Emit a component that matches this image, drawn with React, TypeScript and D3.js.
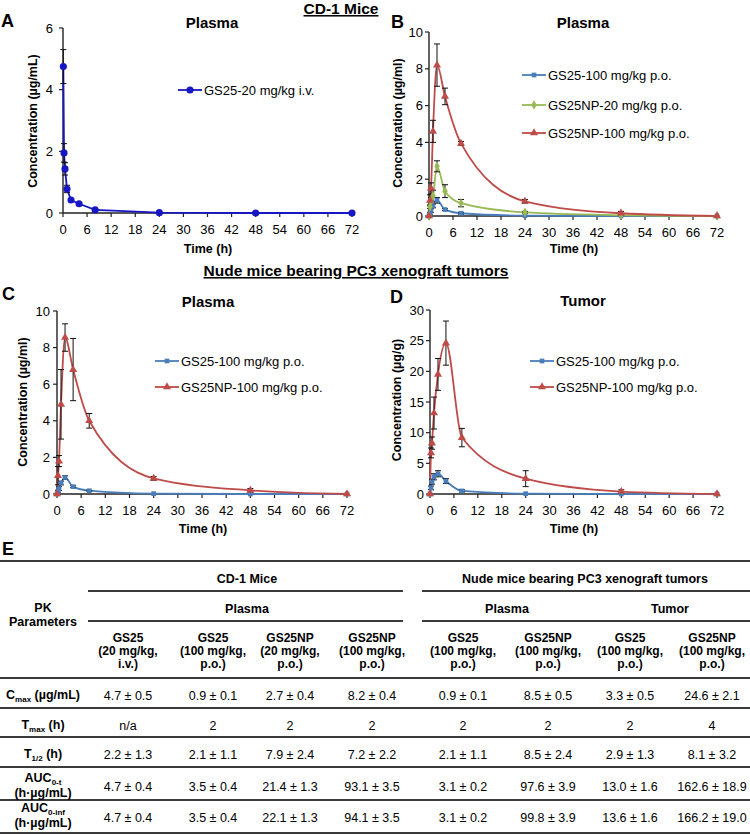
import React from 'react';
import * as d3 from 'd3';

const FONT = 'Arial, "Liberation Sans", Helvetica, sans-serif';

// ---------- DATA ----------
const xTickValues = [0, 6, 12, 18, 24, 30, 36, 42, 48, 54, 60, 66, 72];

const timesIV = [0.083, 0.25, 0.5, 1, 2, 4, 8, 24, 48, 72];
const ivGS25 = [4.75, 1.95, 1.43, 0.78, 0.42, 0.3, 0.1, 0.01, 0, 0];
const ivGS25Err = [0.55, 0.3, 0.2, 0.12, 0.05, 0.04, 0.03, 0, 0, 0];

const timesPO = [0, 0.25, 0.5, 1, 2, 4, 8, 24, 48, 72];
const bGS25 = [0, 0.15, 0.3, 0.55, 0.85, 0.35, 0.15, 0.02, 0, 0];
const bGS25Err = [0, 0.05, 0.1, 0.1, 0.15, 0.05, 0.05, 0, 0, 0];
const bNP20 = [0, 0.5, 0.8, 1.1, 2.7, 1.35, 0.7, 0.2, 0.05, 0];
const bNP20Err = [0, 0.1, 0.2, 0.3, 0.3, 0.35, 0.2, 0.05, 0.02, 0];
const bNP100 = [0, 0.85, 1.5, 4.6, 8.2, 6.5, 3.95, 0.8, 0.15, 0];
const bNP100Err = [0, 0.3, 0.3, 0.6, 1.15, 0.45, 0.1, 0.1, 0.1, 0];

const cGS25 = [0, 0.15, 0.3, 0.6, 0.9, 0.4, 0.18, 0.02, 0, 0];
const cGS25Err = [0, 0.05, 0.1, 0.1, 0.1, 0.05, 0.03, 0, 0, 0];
const cNP100 = [0, 1.0, 1.8, 4.9, 8.55, 6.8, 4.0, 0.85, 0.2, 0];
const cNP100Err = [0, 0.5, 0.3, 1.9, 0.75, 1.7, 0.4, 0.1, 0.1, 0];

const dGS25 = [0, 1.0, 2.0, 2.8, 3.3, 2.1, 0.5, 0.05, 0, 0];
const dGS25Err = [0, 0.3, 0.4, 0.5, 0.5, 0.4, 0.2, 0, 0, 0];
const dNP100 = [0, 6.7, 8.3, 13.2, 19.5, 24.6, 9.2, 2.5, 0.4, 0];
const dNP100Err = [0, 0.8, 1.0, 2.6, 2.6, 3.6, 1.5, 1.3, 0.3, 0];

const legendIV = ['GS25-20 mg/kg i.v.'];
const legendB = ['GS25-100 mg/kg p.o.', 'GS25NP-20 mg/kg p.o.', 'GS25NP-100 mg/kg p.o.'];
const legendCD = ['GS25-100 mg/kg p.o.', 'GS25NP-100 mg/kg p.o.'];

// table
const colDrug = ['GS25', 'GS25', 'GS25NP', 'GS25NP', 'GS25', 'GS25NP', 'GS25', 'GS25NP'];
const colDose = ['(20 mg/kg,', '(100 mg/kg,', '(20 mg/kg,', '(100 mg/kg,', '(100 mg/kg,', '(100 mg/kg,', '(100 mg/kg,', '(100 mg/kg,'];
const colRoute = ['i.v.)', 'p.o.)', 'p.o.)', 'p.o.)', 'p.o.)', 'p.o.)', 'p.o.)', 'p.o.)'];
const rowCmax = ['4.7 ± 0.5', '0.9 ± 0.1', '2.7 ± 0.4', '8.2 ± 0.4', '0.9 ± 0.1', '8.5 ± 0.5', '3.3 ± 0.5', '24.6 ± 2.1'];
const rowTmax = ['n/a', '2', '2', '2', '2', '2', '2', '4'];
const rowThalf = ['2.2 ± 1.3', '2.1 ± 1.1', '7.9 ± 2.4', '7.2 ± 2.2', '2.1 ± 1.1', '8.5 ± 2.4', '2.9 ± 1.3', '8.1 ± 3.2'];
const rowAUCt = ['4.7 ± 0.4', '3.5 ± 0.4', '21.4 ± 1.3', '93.1 ± 3.5', '3.1 ± 0.2', '97.6 ± 3.9', '13.0 ± 1.6', '162.6 ± 18.9'];
const rowAUCinf = ['4.7 ± 0.4', '3.5 ± 0.4', '22.1 ± 1.3', '94.1 ± 3.5', '3.1 ± 0.2', '99.8 ± 3.9', '13.6 ± 1.6', '166.2 ± 19.0'];

// ---------- STYLE ----------
const C_IV = '#1616c4';
const C_BLUE = '#4a7ebb';
const C_GREEN = '#98b954';
const C_RED = '#be4b48';

type Series = { name: string; t: number[]; v: number[]; e: number[]; color: string; sym: any; size: number; curve: any };

type PanelCfg = {
  letter: string; lx: number; ly: number;
  title: string; tx: number; ty: number;
  x0: number; x1: number; yTop: number; yBottom: number; yMax: number; yStep: number;
  yLabel: string; ylx: number; yly: number; ytGap: number;
  timeX: number; timeY: number;
  legX: number; legY: number[];
  series: Series[];
};

function Panel({ c }: { c: PanelCfg }) {
  const x = d3.scaleLinear().domain([0, 72]).range([c.x0, c.x1]);
  const y = d3.scaleLinear().domain([0, c.yMax]).range([c.yBottom, c.yTop]);
  const yTicks = d3.range(0, c.yMax + 0.001, c.yStep);
  return (
    <g fontFamily={FONT}>
      <text x={c.lx} y={c.ly} fontSize={18} fontWeight="bold">{c.letter}</text>
      <text x={c.tx} y={c.ty} fontSize={15} fontWeight="bold" textAnchor="middle">{c.title}</text>
      {/* axes */}
      <line x1={c.x0} x2={c.x0} y1={c.yTop} y2={c.yBottom} stroke="#222" strokeWidth={1.4} />
      <line x1={c.x0} x2={c.x1} y1={c.yBottom} y2={c.yBottom} stroke="#222" strokeWidth={1.4} />
      {yTicks.map((t) => (
        <g key={'y' + t}>
          <line x1={c.x0 - 4} x2={c.x0} y1={y(t)} y2={y(t)} stroke="#222" strokeWidth={1.2} />
          <text x={c.x0 - c.ytGap} y={y(t) + 4.5} fontSize={13} textAnchor="end">{t}</text>
        </g>
      ))}
      {xTickValues.map((t) => (
        <g key={'x' + t}>
          <line x1={x(t)} x2={x(t)} y1={c.yBottom} y2={c.yBottom + 4} stroke="#222" strokeWidth={1.2} />
          <text x={x(t)} y={c.yBottom + 21} fontSize={13} textAnchor="middle">{t}</text>
        </g>
      ))}
      <text x={c.timeX} y={c.timeY} fontSize={12.5} fontWeight="bold" textAnchor="middle">Time (h)</text>
      <text transform={`translate(${c.ylx},${c.yly}) rotate(-90)`} fontSize={12.5} fontWeight="bold" textAnchor="middle">{c.yLabel}</text>
      {/* series lines */}
      {c.series.map((s, i) => {
        const pts = s.t.map((t, k) => [t, s.v[k]] as [number, number]);
        const path = d3.line<[number, number]>().x((d) => x(d[0])).y((d) => y(d[1])).curve(s.curve)(pts) || '';
        return <path key={'l' + i} d={path} fill="none" stroke={s.color} strokeWidth={1.8} />;
      })}
      {/* error bars */}
      {c.series.map((s, i) => (
        <g key={'e' + i} stroke="#111" strokeWidth={1}>
          {s.t.map((t, k) => s.e[k] > 0 ? (
            <g key={k}>
              <line x1={x(t)} x2={x(t)} y1={y(s.v[k] - s.e[k])} y2={y(s.v[k] + s.e[k])} />
              <line x1={x(t) - 3} x2={x(t) + 3} y1={y(s.v[k] + s.e[k])} y2={y(s.v[k] + s.e[k])} />
              <line x1={x(t) - 3} x2={x(t) + 3} y1={y(s.v[k] - s.e[k])} y2={y(s.v[k] - s.e[k])} />
            </g>
          ) : null)}
        </g>
      ))}
      {/* markers */}
      {c.series.map((s, i) => {
        const sym = d3.symbol().type(s.sym).size(s.size)() || '';
        return (
          <g key={'m' + i} fill={s.color}>
            {s.t.map((t, k) => (
              <path key={k} d={sym} transform={`translate(${x(t)},${y(s.v[k])})`} />
            ))}
          </g>
        );
      })}
      {/* legend */}
      {c.series.map((s, i) => {
        const sym = d3.symbol().type(s.sym).size(s.size)() || '';
        const ly = c.legY[i];
        return (
          <g key={'lg' + i}>
            <line x1={c.legX} x2={c.legX + 24} y1={ly} y2={ly} stroke={s.color} strokeWidth={1.8} />
            <path d={sym} transform={`translate(${c.legX + 12},${ly})`} fill={s.color} />
            <text x={c.legX + 26} y={ly + 4.5} fontSize={13}>{s.name}</text>
          </g>
        );
      })}
    </g>
  );
}

const smooth = d3.curveMonotoneX;

const panels: PanelCfg[] = [
  {
    letter: 'A', lx: 1, ly: 27, title: 'Plasma', tx: 212, ty: 28,
    x0: 63, x1: 352, yTop: 28, yBottom: 213, yMax: 6, yStep: 2,
    yLabel: 'Concentration (µg/mL)', ylx: 37, yly: 121, ytGap: 10,
    timeX: 208, timeY: 253, legX: 178, legY: [90],
    series: [{ name: legendIV[0], t: timesIV, v: ivGS25, e: ivGS25Err, color: C_IV, sym: d3.symbolCircle, size: 40, curve: d3.curveLinear }],
  },
  {
    letter: 'B', lx: 391, ly: 28, title: 'Plasma', tx: 583, ty: 28,
    x0: 429, x1: 717, yTop: 32, yBottom: 216, yMax: 10, yStep: 2,
    yLabel: 'Concentration (µg/ml)', ylx: 402, yly: 123, ytGap: 6,
    timeX: 574, timeY: 253, legX: 522, legY: [75, 105, 133],
    series: [
      { name: legendB[0], t: timesPO, v: bGS25, e: bGS25Err, color: C_BLUE, sym: d3.symbolSquare, size: 22, curve: smooth },
      { name: legendB[1], t: timesPO, v: bNP20, e: bNP20Err, color: C_GREEN, sym: d3.symbolDiamond, size: 26, curve: smooth },
      { name: legendB[2], t: timesPO, v: bNP100, e: bNP100Err, color: C_RED, sym: d3.symbolTriangle, size: 28, curve: smooth },
    ],
  },
  {
    letter: 'C', lx: 2, ly: 300, title: 'Plasma', tx: 208, ty: 307,
    x0: 57, x1: 347, yTop: 311, yBottom: 494, yMax: 10, yStep: 2,
    yLabel: 'Concentration (µg/ml)', ylx: 27, yly: 402, ytGap: 7,
    timeX: 203, timeY: 533, legX: 155, legY: [361, 387],
    series: [
      { name: legendCD[0], t: timesPO, v: cGS25, e: cGS25Err, color: C_BLUE, sym: d3.symbolSquare, size: 22, curve: smooth },
      { name: legendCD[1], t: timesPO, v: cNP100, e: cNP100Err, color: C_RED, sym: d3.symbolTriangle, size: 28, curve: smooth },
    ],
  },
  {
    letter: 'D', lx: 390, ly: 303, title: 'Tumor', tx: 583, ty: 306,
    x0: 430, x1: 717, yTop: 310, yBottom: 494, yMax: 30, yStep: 5,
    yLabel: 'Concentration (µg/g)', ylx: 401, yly: 400, ytGap: 6,
    timeX: 574, timeY: 533, legX: 530, legY: [361, 387],
    series: [
      { name: legendCD[0], t: timesPO, v: dGS25, e: dGS25Err, color: C_BLUE, sym: d3.symbolSquare, size: 22, curve: smooth },
      { name: legendCD[1], t: timesPO, v: dNP100, e: dNP100Err, color: C_RED, sym: d3.symbolTriangle, size: 28, curve: smooth },
    ],
  },
];

const colX = [128, 213, 290, 372, 463, 548, 630, 712];
const paramX = 43;

function Sub({ main, sub, rest, y, size = 12.5 }: { main: string; sub: string; rest: string; y: number; size?: number }) {
  return (
    <text x={paramX} y={y} fontSize={size} fontWeight="bold" textAnchor="middle">
      {main}
      <tspan fontSize={8} dy={3}>{sub}</tspan>
      <tspan dy={-3}>{rest}</tspan>
    </text>
  );
}

function Table() {
  const hl = (y: number, x1 = 0, x2 = 750, k = 'l') => (
    <line key={k + y + x1} x1={x1} x2={x2} y1={y} y2={y} stroke="#3a3a3a" strokeWidth={2.2} />
  );
  const rows = [
    { vals: rowCmax, y: 700 },
    { vals: rowTmax, y: 730 },
    { vals: rowThalf, y: 759 },
    { vals: rowAUCt, y: 791 },
    { vals: rowAUCinf, y: 822 },
  ];
  return (
    <g fontFamily={FONT}>
      <text x={2} y={555} fontSize={18} fontWeight="bold">E</text>
      {hl(561)}
      <text x={247} y={583} fontSize={12.5} fontWeight="bold" textAnchor="middle">CD-1 Mice</text>
      <text x={585} y={583} fontSize={12.5} fontWeight="bold" textAnchor="middle">Nude mice bearing PC3 xenograft tumors</text>
      {hl(591, 88, 403)}
      {hl(591, 422, 750)}
      <text x={247} y={613} fontSize={12.5} fontWeight="bold" textAnchor="middle">Plasma</text>
      <text x={507} y={613} fontSize={12.5} fontWeight="bold" textAnchor="middle">Plasma</text>
      <text x={670} y={613} fontSize={12.5} fontWeight="bold" textAnchor="middle">Tumor</text>
      {hl(621, 88, 403)}
      {hl(621, 422, 750)}
      <text x={paramX} y={612} fontSize={12.5} fontWeight="bold" textAnchor="middle">PK</text>
      <text x={paramX} y={626} fontSize={12.5} fontWeight="bold" textAnchor="middle">Parameters</text>
      {colX.map((cx, i) => (
        <g key={'h' + i} fontSize={12} fontWeight="bold" textAnchor="middle">
          <text x={cx} y={642}>{colDrug[i]}</text>
          <text x={cx} y={655}>{colDose[i]}</text>
          <text x={cx} y={668}>{colRoute[i]}</text>
        </g>
      ))}
      {hl(678)}
      {hl(708)}
      {hl(737)}
      {hl(767)}
      {hl(800)}
      {hl(833)}
      <Sub main="C" sub="max" rest=" (µg/mL)" y={699} />
      <Sub main="T" sub="max" rest=" (h)" y={729} />
      <Sub main="T" sub="1/2" rest=" (h)" y={758} />
      <Sub main="AUC" sub="0-t" rest="" y={782} />
      <text x={paramX} y={797} fontSize={12.5} fontWeight="bold" textAnchor="middle">(h·µg/mL)</text>
      <Sub main="AUC" sub="0-inf" rest="" y={812} />
      <text x={paramX} y={827} fontSize={12.5} fontWeight="bold" textAnchor="middle">(h·µg/mL)</text>
      {rows.map((r, ri) => (
        <g key={'r' + ri} fontSize={12.5} textAnchor="middle">
          {r.vals.map((v, i) => <text key={i} x={colX[i]} y={r.y}>{v}</text>)}
        </g>
      ))}
    </g>
  );
}

export default function App() {
  return (
    <svg width={750} height={836} style={{ position: 'absolute', left: 0, top: 0, background: '#fff' }}>
      <rect width={750} height={836} fill="#fff" />
      <g fontFamily={FONT}>
        <text x={341} y={14} fontSize={15.5} fontWeight="bold" textAnchor="middle" textDecoration="underline">CD-1 Mice</text>
        <text x={356} y={276} fontSize={15.5} fontWeight="bold" textAnchor="middle" textDecoration="underline">Nude mice bearing PC3 xenograft tumors</text>
      </g>
      {panels.map((p) => <Panel key={p.letter} c={p} />)}
      <Table />
    </svg>
  );
}
